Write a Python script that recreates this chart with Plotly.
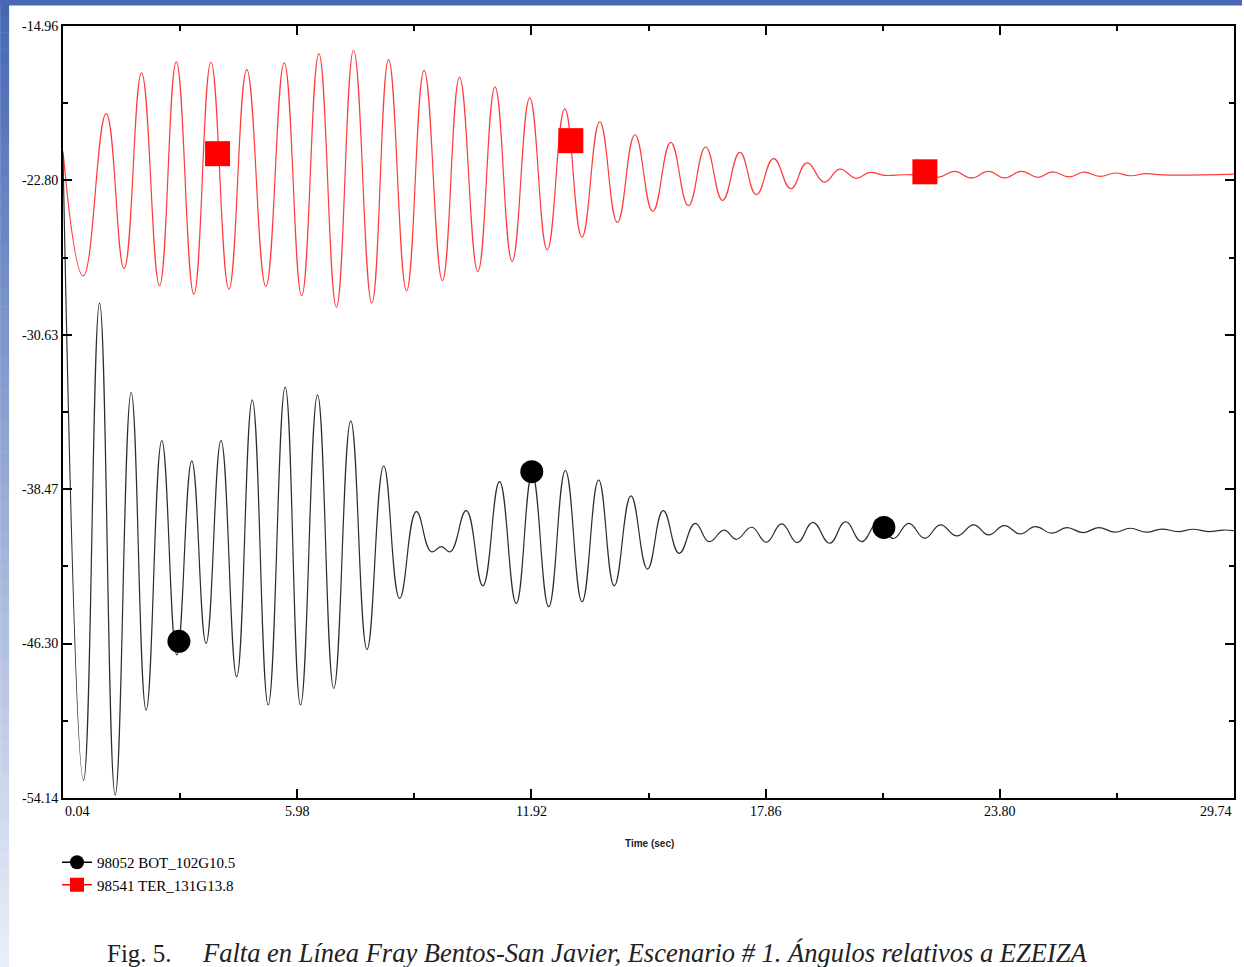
import plotly.graph_objects as go

# ---- axis ticks -------------------------------------------------------------
x_ticks = [0.04, 5.98, 11.92, 17.86, 23.80, 29.74]
x_minor = [3.01, 8.95, 14.89, 20.83, 26.77]
y_ticks = [-54.14, -46.30, -38.47, -30.63, -22.80, -14.96]
y_minor = [-50.22, -42.385, -34.55, -26.715, -18.88]

# ---- 98541 TER_131G13.8 : rotor angle turning points (deg) ------------------
ter_t = [0.04, 0.554, 1.134, 1.589, 2.032, 2.488, 2.913, 3.359, 3.792, 4.248,
         4.701, 5.184, 5.650, 6.093, 6.529, 6.974, 7.410, 7.873, 8.298, 8.754,
         9.199, 9.663, 10.098, 10.562, 10.997, 11.432, 11.878, 12.321, 12.767,
         13.202, 13.655, 14.101, 14.546, 14.999, 15.453, 15.901, 16.339, 16.769,
         17.207, 17.625, 18.063, 18.501, 18.908, 19.349, 19.739, 20.156, 20.498,
         20.883, 21.364, 21.870, 22.250, 22.655, 23.078, 23.516, 23.921, 24.344,
         24.782, 25.124, 25.562, 25.931, 26.339, 26.731, 27.111, 27.516, 27.921,
         29.74]
ter_ang = [-21.32, -27.64, -19.41, -27.27, -17.34, -28.14, -16.78, -28.57, -16.80,
           -28.31, -17.17, -28.18, -16.83, -28.65, -16.36, -29.23, -16.19, -29.02,
           -16.67, -28.40, -17.21, -27.88, -17.57, -27.42, -18.05, -26.91, -18.61,
           -26.32, -19.17, -25.67, -19.82, -24.93, -20.48, -24.37, -20.87, -24.08,
           -21.10, -23.81, -21.37, -23.52, -21.69, -23.22, -21.91, -22.88, -22.22,
           -22.69, -22.39, -22.54, -22.51, -22.53, -22.63, -22.34, -22.67, -22.34,
           -22.67, -22.34, -22.64, -22.36, -22.62, -22.38, -22.59, -22.42, -22.56,
           -22.45, -22.52, -22.48]
ter_mark_t = [3.96, 12.92, 21.90]
ter_mark_ang = [-21.44, -20.78, -22.36]

# ---- 98052 BOT_102G10.5 : rotor angle turning points (deg) ------------------
bot_t = [0.04, 0.562, 0.967, 1.364, 1.769, 2.149, 2.546, 2.926, 3.306, 3.668,
         4.048, 4.445, 4.840, 5.245, 5.675, 6.065, 6.496, 6.908, 7.339, 7.751,
         8.174, 8.579, 9.002, 9.382, 9.635, 9.863, 10.268, 10.688, 11.111, 11.534,
         11.939, 12.359, 12.782, 13.205, 13.625, 14.022, 14.445, 14.865, 15.263,
         15.668, 16.073, 16.427, 16.807, 17.118, 17.508, 17.878, 18.268, 18.663,
         19.060, 19.483, 19.888, 20.293, 20.706, 21.098, 21.491, 21.896, 22.293,
         22.713, 23.136, 23.516, 23.913, 24.318, 24.698, 25.118, 25.498, 25.921,
         26.301, 26.724, 27.103, 27.524, 27.903, 28.326, 28.706, 29.086, 29.465,
         29.74]
bot_ang = [-21.49, -53.23, -29.02, -53.99, -33.56, -49.68, -36.00, -46.88, -37.03,
           -46.29, -36.00, -47.99, -33.93, -49.42, -33.29, -49.42, -33.68, -48.58,
           -35.00, -46.60, -37.29, -44.01, -39.61, -41.64, -41.38, -41.64, -39.56,
           -43.37, -38.08, -44.26, -37.69, -44.43, -37.52, -44.18, -38.00, -43.37,
           -38.81, -42.52, -39.56, -41.72, -40.20, -41.13, -40.54, -41.01, -40.40,
           -41.16, -40.23, -41.18, -40.15, -41.21, -40.12, -41.13, -40.18, -40.97,
           -40.20, -40.96, -40.28, -40.84, -40.28, -40.79, -40.32, -40.74, -40.37,
           -40.70, -40.42, -40.67, -40.42, -40.65, -40.45, -40.65, -40.49, -40.62,
           -40.50, -40.62, -40.54, -40.57]
bot_mark_t = [2.98, 11.93, 20.86]
bot_mark_ang = [-46.19, -37.58, -40.41]

BOT_NAME = "98052 BOT_102G10.5"
TER_NAME = "98541 TER_131G13.8"

W, H = 1244, 967
ML, MR, MT, MB = 63, 8, 26, 169
PW, PH = W - ML - MR, H - MT - MB


def px_x(px):
    return (px - ML) / PW


def px_y(py):
    return 1 - (py - MT) / PH


SERIF = "Liberation Serif"
RED_LINE = "rgb(255,60,60)"
BLACK_LINE = "rgb(45,45,45)"

fig = go.Figure()

fig.add_trace(go.Scatter(x=ter_t, y=ter_ang, mode="lines",
                         line=dict(color=RED_LINE, width=1.2, shape="spline", smoothing=1.3),
                         showlegend=False, hoverinfo="skip"))
fig.add_trace(go.Scatter(x=bot_t, y=bot_ang, mode="lines",
                         line=dict(color=BLACK_LINE, width=1.2, shape="spline", smoothing=1.3),
                         showlegend=False, hoverinfo="skip"))
fig.add_trace(go.Scatter(x=ter_mark_t, y=ter_mark_ang, mode="markers",
                         marker=dict(symbol="square", size=25, color="#ff0000"),
                         showlegend=False, hoverinfo="skip"))
fig.add_trace(go.Scatter(x=bot_mark_t, y=bot_mark_ang, mode="markers",
                         marker=dict(symbol="circle", size=23, color="#000000"),
                         showlegend=False, hoverinfo="skip"))

# legend entries
fig.add_trace(go.Scatter(x=[None], y=[None], mode="lines+markers", name=BOT_NAME,
                         line=dict(color="#000000", width=1.5),
                         marker=dict(symbol="circle", size=14, color="#000000"),
                         legendgroup="bot"))
fig.add_trace(go.Scatter(x=[None], y=[None], mode="lines+markers", name=TER_NAME,
                         line=dict(color="#ff0000", width=1.5),
                         marker=dict(symbol="square", size=14, color="#ff0000"),
                         legendgroup="ter"))

axis_common = dict(showgrid=False, zeroline=False, showline=True, linecolor="black",
                   linewidth=2, mirror="ticks", ticks="inside", ticklen=9,
                   tickwidth=1.5, tickcolor="black")

fig.update_xaxes(range=[x_ticks[0], x_ticks[-1]], tickvals=x_ticks, showticklabels=False,
                 minor=dict(tickvals=x_minor, ticks="inside", ticklen=5, tickwidth=1.5,
                            tickcolor="black"),
                 **axis_common)
fig.update_yaxes(range=[y_ticks[0], y_ticks[-1]], tickvals=y_ticks,
                 ticktext=[f"{v:.2f}" for v in y_ticks],
                 tickfont=dict(family=SERIF, size=14, color="black"),
                 minor=dict(tickvals=y_minor, ticks="inside", ticklen=5, tickwidth=1.5,
                            tickcolor="black"),
                 **axis_common)

annotations = []
for i, v in enumerate(x_ticks):
    anchor = "left" if i == 0 else ("right" if i == len(x_ticks) - 1 else "center")
    annotations.append(dict(x=v, xref="x", y=px_y(802), yref="paper", text=f"{v:.2f}",
                            showarrow=False, xanchor=anchor, yanchor="top",
                            font=dict(family=SERIF, size=14, color="black")))
annotations.append(dict(x=px_x(651), xref="paper", y=px_y(843), yref="paper",
                        text="<b>Time (sec)</b>", showarrow=False, xanchor="center",
                        yanchor="middle",
                        font=dict(family="Liberation Sans", size=10, color="#222")))
annotations.append(dict(x=px_x(105), xref="paper", y=px_y(953), yref="paper",
                        text="Fig. 5.", showarrow=False, xanchor="left", yanchor="middle",
                        font=dict(family=SERIF, size=25, color="#222")))
annotations.append(dict(x=px_x(200), xref="paper", y=px_y(953), yref="paper",
                        text="<i>Falta en Línea Fray Bentos-San Javier, Escenario # 1. "
                             "Ángulos relativos a EZEIZA</i>",
                        showarrow=False, xanchor="left", yanchor="middle",
                        font=dict(family=SERIF, size=26.5, color="#222")))

# page frame: blue band on top, fading blue band down the left edge
shapes = [dict(type="rect", xref="paper", yref="paper", x0=px_x(0), x1=px_x(W),
               y0=px_y(0), y1=px_y(5.5), fillcolor="rgb(70,104,180)", line=dict(width=0),
               layer="below")]
n_steps = 60
c_top = (70, 104, 180)
c_bot = (232, 237, 248)
for k in range(n_steps):
    f = k / (n_steps - 1)
    col = tuple(round(c_top[j] + (c_bot[j] - c_top[j]) * f) for j in range(3))
    y0 = H * k / n_steps
    y1 = H * (k + 1) / n_steps + 0.5
    shapes.append(dict(type="rect", xref="paper", yref="paper", x0=px_x(0), x1=px_x(9),
                       y0=px_y(y1), y1=px_y(y0), fillcolor=f"rgb{col}",
                       line=dict(width=0), layer="below"))

fig.update_layout(
    width=W, height=H,
    margin=dict(l=ML, r=MR, t=MT, b=MB, pad=0),
    paper_bgcolor="white", plot_bgcolor="white",
    showlegend=True,
    legend=dict(x=px_x(57), y=px_y(846), xanchor="left", yanchor="top",
                font=dict(family=SERIF, size=15, color="black"),
                bgcolor="rgba(0,0,0,0)", traceorder="grouped", tracegroupgap=0,
                itemwidth=30),
    annotations=annotations,
    shapes=shapes,
)

fig.write_html("out.html")
